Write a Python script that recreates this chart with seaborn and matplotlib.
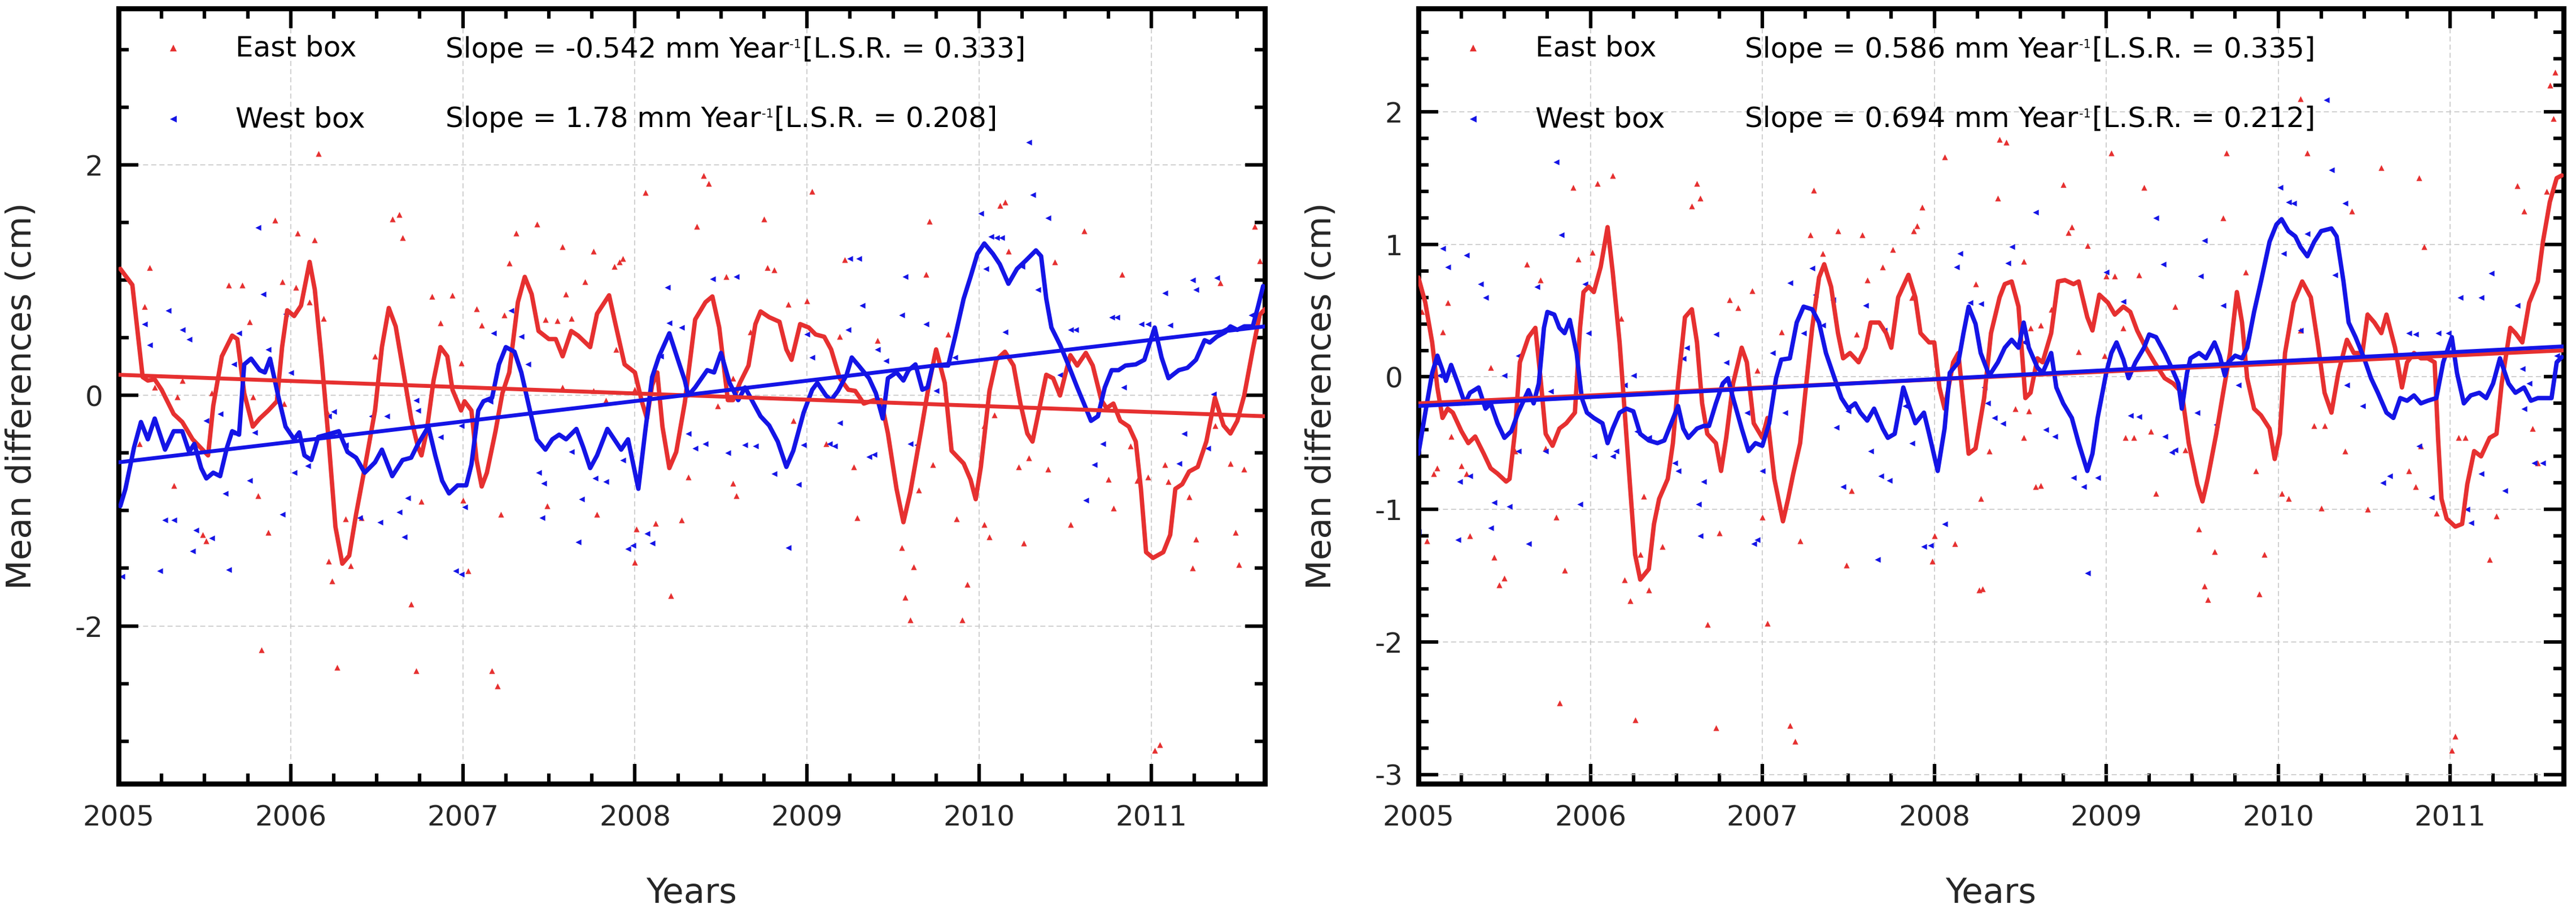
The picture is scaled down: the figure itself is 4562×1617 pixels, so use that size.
import numpy as np
import pandas as pd
import matplotlib
matplotlib.use("Agg")
import matplotlib.pyplot as plt
import seaborn as sns
from matplotlib.ticker import MultipleLocator, FuncFormatter

# ---------------- DATA ----------------
# Left panel, East box, smoothed line
le_line_x = [2005.01, 2005.08, 2005.14, 2005.17, 2005.21, 2005.25, 2005.32, 2005.37, 2005.43, 2005.52,
             2005.55, 2005.60, 2005.66, 2005.69, 2005.73, 2005.78, 2005.82, 2005.87, 2005.92, 2005.95,
             2005.98, 2006.02, 2006.06, 2006.11, 2006.14, 2006.18, 2006.22, 2006.26, 2006.30, 2006.34,
             2006.38, 2006.43, 2006.49, 2006.53, 2006.57, 2006.61, 2006.66, 2006.70, 2006.74, 2006.76,
             2006.79, 2006.83, 2006.87, 2006.91, 2006.94, 2006.99, 2007.01, 2007.05, 2007.08, 2007.11,
             2007.14, 2007.19, 2007.23, 2007.27, 2007.32, 2007.36, 2007.40, 2007.44, 2007.50, 2007.54,
             2007.58, 2007.63, 2007.67, 2007.74, 2007.78, 2007.85, 2007.89, 2007.94, 2008.00, 2008.04,
             2008.07, 2008.10, 2008.13, 2008.16, 2008.20, 2008.24, 2008.29, 2008.35, 2008.41, 2008.45,
             2008.49, 2008.54, 2008.57, 2008.61, 2008.66, 2008.70, 2008.73, 2008.78, 2008.84, 2008.88,
             2008.91, 2008.96, 2009.01, 2009.05, 2009.10, 2009.14, 2009.19, 2009.24, 2009.28, 2009.33,
             2009.39, 2009.43, 2009.47, 2009.52, 2009.56, 2009.60, 2009.66, 2009.71, 2009.75, 2009.80,
             2009.84, 2009.91, 2009.95, 2009.98, 2010.01, 2010.06, 2010.10, 2010.15, 2010.20, 2010.24,
             2010.28, 2010.31, 2010.35, 2010.39, 2010.43, 2010.47, 2010.50, 2010.53, 2010.57, 2010.62,
             2010.66, 2010.71, 2010.74, 2010.78, 2010.82, 2010.87, 2010.91, 2010.94, 2010.97, 2011.01,
             2011.07, 2011.11, 2011.14, 2011.18, 2011.22, 2011.27, 2011.32, 2011.37, 2011.42, 2011.46,
             2011.50, 2011.54, 2011.59, 2011.63, 2011.66]
le_line_y = [1.10, 0.96, 0.16, 0.13, 0.14, 0.05, -0.16, -0.23, -0.38, -0.52,
             -0.09, 0.34, 0.52, 0.49, 0.02, -0.27, -0.20, -0.13, -0.05, 0.42,
             0.74, 0.69, 0.78, 1.16, 0.92, 0.31, -0.38, -1.14, -1.46, -1.39,
             -1.03, -0.63, -0.13, 0.42, 0.76, 0.60, 0.16, -0.20, -0.45, -0.52,
             -0.31, 0.13, 0.42, 0.34, 0.05, -0.13, -0.05, -0.13, -0.56, -0.79,
             -0.67, -0.31, 0.02, 0.20, 0.81, 1.03, 0.88, 0.56, 0.49, 0.49,
             0.34, 0.56, 0.52, 0.42, 0.71, 0.87, 0.60, 0.27, 0.20, -0.05,
             -0.20, 0.09, 0.20, -0.27, -0.63, -0.49, -0.06, 0.66, 0.81, 0.86,
             0.59, -0.04, -0.04, 0.11, 0.26, 0.62, 0.73, 0.68, 0.64, 0.40,
             0.31, 0.62, 0.59, 0.53, 0.51, 0.40, 0.15, 0.05, 0.04, -0.07,
             -0.04, -0.04, -0.33, -0.81, -1.10, -0.84, -0.33, 0.11, 0.40, 0.11,
             -0.48, -0.59, -0.73, -0.90, -0.62, 0.04, 0.31, 0.38, 0.26, -0.07,
             -0.33, -0.40, -0.11, 0.18, 0.15, 0.00, 0.18, 0.35, 0.26, 0.37,
             0.26, -0.04, -0.11, -0.07, -0.22, -0.27, -0.40, -0.81, -1.36, -1.41,
             -1.36, -1.21, -0.81, -0.77, -0.66, -0.62, -0.40, -0.02, -0.26, -0.33,
             -0.22, 0.00, 0.40, 0.70, 0.75]

# Left panel, West box, smoothed line
lw_line_x = [2005.01, 2005.04, 2005.09, 2005.13, 2005.17, 2005.21, 2005.27, 2005.32, 2005.37, 2005.41,
             2005.44, 2005.48, 2005.51, 2005.55, 2005.59, 2005.63, 2005.66, 2005.70, 2005.73, 2005.77,
             2005.82, 2005.85, 2005.88, 2005.93, 2005.97, 2006.02, 2006.05, 2006.08, 2006.12, 2006.16,
             2006.21, 2006.28, 2006.33, 2006.38, 2006.43, 2006.49, 2006.53, 2006.59, 2006.65, 2006.70,
             2006.74, 2006.80, 2006.84, 2006.88, 2006.92, 2006.97, 2007.02, 2007.05, 2007.09, 2007.12,
             2007.17, 2007.21, 2007.25, 2007.30, 2007.34, 2007.39, 2007.43, 2007.48, 2007.52, 2007.56,
             2007.60, 2007.66, 2007.70, 2007.74, 2007.78, 2007.84, 2007.88, 2007.92, 2007.96, 2008.02,
             2008.06, 2008.10, 2008.14, 2008.20, 2008.25, 2008.29, 2008.31, 2008.35, 2008.42, 2008.46,
             2008.50, 2008.55, 2008.60, 2008.64, 2008.69, 2008.73, 2008.78, 2008.83, 2008.88, 2008.92,
             2008.98, 2009.03, 2009.06, 2009.11, 2009.14, 2009.18, 2009.23, 2009.26, 2009.30, 2009.36,
             2009.40, 2009.44, 2009.47, 2009.52, 2009.56, 2009.59, 2009.63, 2009.67, 2009.70, 2009.73,
             2009.78, 2009.82, 2009.86, 2009.91, 2009.95, 2009.99, 2010.03, 2010.08, 2010.12, 2010.17,
             2010.22, 2010.27, 2010.33, 2010.36, 2010.39, 2010.42, 2010.47, 2010.52, 2010.57, 2010.62,
             2010.65, 2010.69, 2010.73, 2010.77, 2010.81, 2010.85, 2010.91, 2010.96, 2011.02, 2011.06,
             2011.10, 2011.16, 2011.21, 2011.26, 2011.31, 2011.34, 2011.38, 2011.43, 2011.46, 2011.50,
             2011.54, 2011.59, 2011.62, 2011.65]
lw_line_y = [-0.96, -0.81, -0.45, -0.23, -0.38, -0.20, -0.47, -0.31, -0.31, -0.49,
             -0.42, -0.63, -0.72, -0.67, -0.70, -0.45, -0.31, -0.34, 0.27, 0.32,
             0.22, 0.20, 0.32, -0.02, -0.27, -0.38, -0.32, -0.52, -0.56, -0.36,
             -0.34, -0.31, -0.49, -0.54, -0.67, -0.58, -0.47, -0.70, -0.56, -0.54,
             -0.42, -0.27, -0.52, -0.74, -0.85, -0.78, -0.78, -0.60, -0.13, -0.05,
             -0.02, 0.27, 0.42, 0.38, 0.20, -0.13, -0.38, -0.47, -0.38, -0.34,
             -0.38, -0.29, -0.45, -0.63, -0.52, -0.29, -0.38, -0.47, -0.38, -0.81,
             -0.31, 0.16, 0.34, 0.54, 0.31, 0.13, 0.00, 0.07, 0.22, 0.20,
             0.37, 0.11, -0.04, 0.07, -0.07, -0.18, -0.26, -0.40, -0.62, -0.48,
             -0.15, 0.05, 0.11, 0.00, -0.04, 0.04, 0.18, 0.33, 0.26, 0.15,
             0.02, -0.20, 0.15, 0.20, 0.13, 0.22, 0.27, 0.05, 0.07, 0.26,
             0.26, 0.26, 0.51, 0.84, 1.03, 1.23, 1.32, 1.23, 1.14, 0.97,
             1.10, 1.17, 1.26, 1.21, 0.84, 0.59, 0.44, 0.26, 0.07, -0.11,
             -0.22, -0.18, 0.07, 0.22, 0.22, 0.26, 0.27, 0.31, 0.59, 0.33,
             0.15, 0.22, 0.24, 0.31, 0.48, 0.46, 0.51, 0.55, 0.60, 0.57,
             0.60, 0.60, 0.77, 0.95]

# Right panel, East box, smoothed line
re_line_x = [2005.00, 2005.04, 2005.08, 2005.11, 2005.14, 2005.17, 2005.20, 2005.25, 2005.29, 2005.33,
             2005.38, 2005.42, 2005.46, 2005.51, 2005.53, 2005.56, 2005.59, 2005.64, 2005.68, 2005.71,
             2005.74, 2005.78, 2005.82, 2005.86, 2005.91, 2005.94, 2005.96, 2005.99, 2006.02, 2006.06,
             2006.10, 2006.13, 2006.17, 2006.20, 2006.23, 2006.26, 2006.29, 2006.34, 2006.37, 2006.40,
             2006.45, 2006.48, 2006.51, 2006.55, 2006.59, 2006.62, 2006.65, 2006.68, 2006.73, 2006.76,
             2006.79, 2006.83, 2006.88, 2006.91, 2006.95, 2007.00, 2007.03, 2007.07, 2007.12, 2007.15,
             2007.18, 2007.22, 2007.25, 2007.29, 2007.33, 2007.36, 2007.40, 2007.44, 2007.47, 2007.51,
             2007.56, 2007.60, 2007.63, 2007.68, 2007.72, 2007.75, 2007.79, 2007.85, 2007.89, 2007.92,
             2007.97, 2008.00, 2008.03, 2008.06, 2008.11, 2008.14, 2008.17, 2008.20, 2008.24, 2008.29,
             2008.33, 2008.38, 2008.41, 2008.45, 2008.49, 2008.53, 2008.56, 2008.60, 2008.63, 2008.68,
             2008.72, 2008.76, 2008.81, 2008.84, 2008.89, 2008.92, 2008.96, 2009.01, 2009.05, 2009.10,
             2009.14, 2009.18, 2009.23, 2009.28, 2009.34, 2009.39, 2009.44, 2009.48, 2009.53, 2009.56,
             2009.59, 2009.64, 2009.68, 2009.72, 2009.76, 2009.79, 2009.82, 2009.86, 2009.90, 2009.95,
             2009.98, 2010.01, 2010.04, 2010.09, 2010.14, 2010.19, 2010.23, 2010.27, 2010.31, 2010.35,
             2010.40, 2010.44, 2010.49, 2010.52, 2010.56, 2010.60, 2010.63, 2010.68, 2010.72, 2010.75,
             2010.79, 2010.83, 2010.87, 2010.91, 2010.93, 2010.95, 2010.98, 2011.03, 2011.07, 2011.10,
             2011.14, 2011.18, 2011.23, 2011.27, 2011.30, 2011.35, 2011.38, 2011.42, 2011.46, 2011.51,
             2011.54, 2011.58, 2011.62, 2011.65]
re_line_y = [0.75, 0.56, 0.26, -0.08, -0.31, -0.24, -0.27, -0.41, -0.50, -0.45,
             -0.58, -0.69, -0.73, -0.79, -0.77, -0.43, 0.11, 0.30, 0.37, -0.01,
             -0.43, -0.52, -0.39, -0.35, -0.27, 0.37, 0.64, 0.68, 0.64, 0.83,
             1.13, 0.79, 0.26, -0.27, -0.81, -1.34, -1.53, -1.45, -1.11, -0.92,
             -0.77, -0.50, -0.05, 0.45, 0.51, 0.26, -0.20, -0.43, -0.50, -0.71,
             -0.46, -0.05, 0.22, 0.11, -0.35, -0.46, -0.31, -0.77, -1.09, -0.92,
             -0.73, -0.50, -0.12, 0.37, 0.75, 0.85, 0.68, 0.33, 0.14, 0.18,
             0.11, 0.22, 0.41, 0.41, 0.33, 0.22, 0.60, 0.77, 0.60, 0.33,
             0.26, 0.26, -0.08, -0.24, 0.11, 0.18, -0.20, -0.58, -0.54, -0.16,
             0.33, 0.60, 0.70, 0.72, 0.53, -0.16, -0.12, 0.14, 0.11, 0.33,
             0.72, 0.73, 0.70, 0.72, 0.45, 0.35, 0.62, 0.56, 0.47, 0.53,
             0.49, 0.35, 0.22, 0.11, -0.01, -0.05, -0.12, -0.50, -0.81, -0.94,
             -0.77, -0.43, -0.12, 0.18, 0.64, 0.41, -0.01, -0.24, -0.29, -0.39,
             -0.62, -0.43, 0.18, 0.56, 0.72, 0.60, 0.26, -0.12, -0.27, 0.03,
             0.28, 0.18, 0.18, 0.47, 0.41, 0.33, 0.47, 0.22, -0.08, 0.11,
             0.18, 0.14, 0.14, 0.11, -0.46, -0.92, -1.07, -1.13, -1.11, -0.81,
             -0.56, -0.60, -0.46, -0.43, -0.05, 0.37, 0.33, 0.26, 0.56, 0.72,
             1.02, 1.32, 1.50, 1.52]

# Right panel, West box, smoothed line
rw_line_x = [2005.00, 2005.04, 2005.08, 2005.11, 2005.14, 2005.16, 2005.19, 2005.23, 2005.27, 2005.30,
             2005.35, 2005.39, 2005.42, 2005.46, 2005.50, 2005.54, 2005.58, 2005.64, 2005.67, 2005.70,
             2005.73, 2005.75, 2005.79, 2005.82, 2005.85, 2005.88, 2005.92, 2005.95, 2005.98, 2006.02,
             2006.07, 2006.10, 2006.13, 2006.17, 2006.21, 2006.25, 2006.29, 2006.34, 2006.39, 2006.43,
             2006.47, 2006.51, 2006.54, 2006.57, 2006.62, 2006.66, 2006.69, 2006.73, 2006.77, 2006.80,
             2006.83, 2006.88, 2006.92, 2006.96, 2007.00, 2007.04, 2007.08, 2007.11, 2007.16, 2007.20,
             2007.24, 2007.29, 2007.33, 2007.37, 2007.42, 2007.46, 2007.50, 2007.54, 2007.57, 2007.61,
             2007.65, 2007.70, 2007.73, 2007.77, 2007.82, 2007.85, 2007.89, 2007.94, 2007.97, 2008.02,
             2008.06, 2008.09, 2008.14, 2008.17, 2008.20, 2008.24, 2008.27, 2008.32, 2008.37, 2008.41,
             2008.45, 2008.49, 2008.52, 2008.55, 2008.60, 2008.63, 2008.68, 2008.71, 2008.75, 2008.80,
             2008.84, 2008.89, 2008.92, 2008.95, 2009.00, 2009.03, 2009.06, 2009.10, 2009.13, 2009.17,
             2009.22, 2009.25, 2009.29, 2009.34, 2009.38, 2009.42, 2009.44, 2009.47, 2009.49, 2009.54,
             2009.58, 2009.63, 2009.66, 2009.69, 2009.71, 2009.75, 2009.79, 2009.82, 2009.86, 2009.90,
             2009.95, 2009.99, 2010.02, 2010.06, 2010.10, 2010.13, 2010.17, 2010.21, 2010.25, 2010.31,
             2010.34, 2010.38, 2010.41, 2010.45, 2010.50, 2010.54, 2010.58, 2010.63, 2010.67, 2010.71,
             2010.75, 2010.79, 2010.83, 2010.87, 2010.92, 2010.96, 2011.01, 2011.04, 2011.08, 2011.12,
             2011.17, 2011.21, 2011.25, 2011.29, 2011.34, 2011.38, 2011.43, 2011.47, 2011.51, 2011.55,
             2011.59, 2011.62, 2011.65]
rw_line_y = [-0.58, -0.27, 0.03, 0.16, 0.05, -0.03, 0.09, -0.05, -0.20, -0.12,
             -0.08, -0.24, -0.20, -0.35, -0.46, -0.41, -0.27, -0.10, -0.20, -0.05,
             0.37, 0.49, 0.47, 0.37, 0.33, 0.43, 0.18, -0.16, -0.27, -0.31,
             -0.35, -0.50, -0.39, -0.27, -0.24, -0.26, -0.43, -0.48, -0.50, -0.48,
             -0.35, -0.22, -0.39, -0.46, -0.39, -0.37, -0.37, -0.20, -0.05, -0.01,
             -0.16, -0.39, -0.56, -0.50, -0.52, -0.35, -0.01, 0.13, 0.14, 0.41,
             0.53, 0.51, 0.41, 0.18, -0.01, -0.16, -0.24, -0.20, -0.27, -0.33,
             -0.24, -0.39, -0.46, -0.43, -0.08, -0.20, -0.35, -0.27, -0.43, -0.71,
             -0.39, 0.03, 0.11, 0.33, 0.53, 0.40, 0.18, 0.01, 0.11, 0.22,
             0.28, 0.22, 0.41, 0.22, 0.07, 0.03, 0.18, -0.08, -0.20, -0.31,
             -0.50, -0.71, -0.58, -0.31, 0.03, 0.18, 0.26, 0.13, -0.01, 0.11,
             0.22, 0.32, 0.30, 0.18, 0.07, -0.05, -0.24, 0.03, 0.14, 0.18,
             0.14, 0.26, 0.16, 0.01, 0.11, 0.16, 0.14, 0.22, 0.49, 0.72,
             1.02, 1.15, 1.19, 1.10, 1.06, 0.98, 0.91, 1.02, 1.10, 1.12,
             1.06, 0.72, 0.41, 0.30, 0.14, -0.01, -0.12, -0.27, -0.31, -0.16,
             -0.18, -0.14, -0.20, -0.18, -0.16, 0.11, 0.30, 0.03, -0.20, -0.14,
             -0.12, -0.16, -0.05, 0.14, -0.05, -0.12, -0.08, -0.18, -0.16, -0.16,
             -0.16, 0.11, 0.15]

# Scatter points (x = decimal year, y = cm)
le_pts_x = [2005.00, 2006.16, 2008.06, 2005.91, 2006.59, 2006.63, 2006.65, 2006.04, 2006.14, 2005.18,
            2005.64, 2005.72, 2005.95, 2006.03, 2007.31, 2007.43, 2007.58, 2007.27, 2007.76, 2007.88,
            2007.91, 2007.93, 2007.71, 2007.60, 2006.82, 2006.94, 2005.15, 2005.76, 2006.11, 2006.19,
            2006.87, 2007.08, 2007.11, 2007.48, 2007.55, 2007.63, 2007.89, 2006.49, 2006.99, 2007.24,
            2005.37, 2005.21, 2005.34, 2005.54, 2005.78, 2005.96, 2007.58, 2007.76, 2007.83, 2008.00,
            2008.12, 2005.12, 2005.32, 2005.81, 2005.87, 2005.49, 2005.51, 2006.21, 2006.32, 2006.41,
            2006.22, 2006.24, 2006.35, 2006.76, 2007.00, 2007.03, 2006.70, 2007.22, 2007.49, 2007.78,
            2008.01, 2008.12, 2008.00, 2008.27, 2008.21, 2005.83, 2006.27, 2006.73, 2007.17, 2007.20,
            2008.40, 2008.43, 2009.03, 2008.36, 2008.75, 2008.77, 2008.81, 2008.53, 2009.22, 2009.71,
            2010.12, 2010.15, 2010.61, 2010.17, 2010.44, 2009.69, 2010.83, 2008.89, 2009.00, 2008.67,
            2009.19, 2009.41, 2009.82, 2008.57, 2008.48, 2008.31, 2008.57, 2008.59, 2008.92, 2009.11,
            2009.27, 2009.29, 2009.73, 2009.87, 2009.65, 2009.55, 2009.62, 2009.57, 2009.60, 2009.93,
            2009.90, 2010.03, 2010.06, 2010.26, 2010.23, 2010.29, 2010.40, 2010.09, 2010.03, 2010.53,
            2010.78, 2010.75, 2010.92, 2010.88, 2010.98, 2011.08, 2011.10, 2011.22, 2011.26, 2011.24,
            2011.49, 2011.51, 2011.46, 2011.54, 2011.37, 2011.40, 2011.60, 2011.63, 2011.02, 2011.05]
le_pts_y = [3.02, 2.10, 1.76, 1.52, 1.53, 1.57, 1.37, 1.41, 1.35, 1.11,
            0.96, 0.96, 0.99, 0.94, 1.41, 1.49, 1.29, 1.15, 1.25, 1.12,
            1.16, 1.19, 0.99, 0.88, 0.86, 0.87, 0.77, 0.64, 0.81, 0.67,
            0.63, 0.75, 0.61, 0.66, 0.65, 0.67, 0.40, 0.34, 0.28, 0.70,
            0.13, 0.07, -0.01, 0.02, -0.01, -0.07, 0.07, 0.04, -0.04, 0.05,
            0.20, -0.42, -0.78, -0.87, -1.19, -1.21, -1.26, -0.14, -1.07, -1.06,
            -1.44, -1.61, -1.48, -0.92, -0.91, -1.52, -1.81, -1.03, -0.96, -1.03,
            -1.16, -1.11, -1.45, -1.08, -1.74, -2.21, -2.36, -2.39, -2.39, -2.52,
            1.91, 1.84, 1.77, 1.47, 1.53, 1.11, 1.09, 1.03, 1.18, 1.51,
            1.65, 1.68, 1.43, 1.25, 1.16, 1.05, 1.05, 0.79, 0.82, 0.55,
            0.51, 0.48, 0.53, 0.15, -0.09, -0.71, -0.76, -0.87, -0.22, -0.42,
            -0.62, -1.06, -0.60, -1.07, -0.82, -1.32, -1.49, -1.75, -1.95, -1.64,
            -1.95, -1.12, -1.23, -1.28, -0.62, -0.54, -0.64, -0.17, -0.26, -1.12,
            -0.98, -0.73, -0.74, -0.44, -0.71, -0.60, -0.75, -0.88, -1.25, -1.50,
            -1.19, -1.47, -0.59, -0.64, -0.26, 0.98, 1.47, 1.17, -3.08, -3.03]

lw_pts_x = [2005.81, 2005.84, 2005.29, 2005.15, 2005.18, 2005.37, 2005.41, 2005.70, 2005.67, 2005.87,
            2006.00, 2005.97, 2005.51, 2005.59, 2005.66, 2005.79, 2006.02, 2006.10, 2006.22, 2006.25,
            2006.32, 2005.62, 2005.76, 2005.27, 2005.32, 2005.45, 2005.54, 2005.43, 2005.24, 2005.64,
            2005.02, 2005.95, 2006.40, 2006.52, 2006.47, 2006.56, 2006.63, 2006.68, 2006.66, 2006.73,
            2006.74, 2006.87, 2006.99, 2007.01, 2006.96, 2006.99, 2007.16, 2007.18, 2007.28, 2007.34,
            2007.38, 2007.44, 2007.46, 2007.47, 2007.63, 2007.69, 2007.67, 2007.77, 2007.83, 2007.93,
            2007.96, 2007.99, 2008.07, 2008.10, 2008.19, 2008.20, 2008.15, 2008.31,
            2010.29, 2010.31, 2010.40, 2010.01, 2010.07, 2010.10, 2010.13, 2010.04, 2010.25, 2009.25,
            2009.30, 2008.45, 2008.59, 2009.57, 2010.34, 2009.32, 2009.55, 2009.69, 2010.15, 2011.08,
            2011.24, 2011.26, 2011.38, 2010.77, 2010.80, 2010.94, 2010.98, 2011.11, 2011.42, 2008.27,
            2009.00, 2009.24, 2009.03, 2009.41, 2009.46, 2009.75, 2009.86, 2010.53, 2010.56, 2010.47,
            2010.84, 2011.36, 2008.35, 2008.41, 2008.54, 2008.64, 2008.70, 2008.98, 2009.13, 2009.16,
            2009.19, 2009.36, 2009.39, 2009.60, 2009.64, 2008.81, 2008.95, 2008.89, 2010.72, 2010.67,
            2010.62, 2011.16, 2011.19, 2011.33, 2011.58]
lw_pts_y = [1.46, 0.88, 0.74, 0.62, 0.44, 0.57, 0.49, 0.54, 0.27, 0.40,
            0.20, 0.71, -0.22, -0.16, -0.32, -0.32, -0.67, -0.61, -0.18, -0.14,
            -0.43, -0.85, -0.74, -1.08, -1.08, -1.17, -1.24, -1.35, -1.52, -1.51,
            -1.57, -1.03, -1.06, -1.10, -0.18, -0.18, -1.01, -0.89, -1.23, -0.04,
            -0.13, -0.36, -0.26, -0.97, -1.52, -1.55, -0.05, 0.54, 0.74, 0.51,
            0.27, -0.67, -1.06, -0.76, -0.49, -0.90, -1.27, -0.72, -0.75, -0.56,
            -1.33, -1.30, -1.20, -1.28, 0.94, 0.63, 0.34, -0.33,
            2.20, 1.74, 1.54, 1.58, 1.38, 1.37, 1.37, 1.10, 1.12, 1.19,
            1.19, 1.01, 1.03, 1.03, 0.92, 0.78, 0.70, 0.62, 0.55, 0.89,
            1.00, 0.92, 1.02, 0.68, 0.68, 0.62, 0.62, 0.61, 0.57, 0.59,
            0.53, 0.57, 0.33, 0.40, 0.30, 0.04, 0.33, 0.57, 0.57, 0.18,
            0.07, 0.01, -0.46, -0.42, -0.50, -0.43, -0.44, -0.43, -0.42, -0.44,
            -0.24, -0.53, -0.51, -0.42, -0.43, -0.68, -0.77, -1.32, -0.42, -0.60,
            -0.91, -0.59, -0.33, -0.46, 0.70]

re_pts_x = [2005.00, 2005.02, 2005.17, 2005.14, 2005.19, 2005.25, 2005.28, 2005.09, 2005.11, 2005.05,
            2005.30, 2005.42, 2005.44, 2005.47, 2005.50, 2005.56, 2005.63, 2005.71, 2005.74, 2005.80,
            2005.82, 2005.85, 2005.90, 2005.93, 2006.01, 2006.04, 2006.13, 2006.18, 2006.20, 2006.23,
            2006.29, 2006.31, 2006.34, 2006.26, 2006.42, 2006.59, 2006.62, 2006.64, 2006.68, 2006.73,
            2006.75, 2006.81, 2006.86, 2006.94, 2006.97, 2007.00, 2007.03, 2007.11, 2007.16, 2007.19,
            2007.22, 2007.28, 2007.30, 2007.35, 2007.44, 2007.49, 2007.52, 2007.55, 2007.58, 2007.61,
            2007.70, 2007.76, 2007.88, 2007.90, 2007.93, 2007.87, 2007.99, 2008.00, 2008.06, 2008.12,
            2008.26, 2008.24, 2008.38, 2008.42, 2009.03, 2008.75, 2008.37, 2008.78, 2008.80, 2008.89,
            2008.52, 2009.00, 2009.05, 2009.19, 2008.68, 2008.62, 2008.56, 2008.84, 2008.99, 2009.10,
            2009.40, 2009.22, 2009.70, 2009.68, 2009.81, 2010.13, 2010.17, 2010.60, 2010.82, 2010.85,
            2010.52, 2010.13, 2010.43, 2011.39, 2011.43, 2011.56, 2011.58, 2011.60, 2011.61, 2008.27,
            2008.28, 2008.47, 2008.55, 2008.52, 2008.59, 2008.62, 2008.32, 2009.11, 2009.16, 2009.26,
            2009.29, 2009.46, 2009.54, 2009.63, 2009.57, 2009.59, 2009.87, 2009.92, 2009.89, 2010.02,
            2010.06, 2010.21, 2010.27, 2010.25, 2010.39, 2010.52, 2010.76, 2010.80, 2010.83, 2010.92,
            2011.05, 2011.09, 2011.27, 2011.23, 2011.48, 2011.51, 2011.03, 2011.01]
re_pts_y = [2.49, 0.49, 0.56, 0.34, -0.45, -0.67, -0.73, -0.73, -0.69, -1.24,
            -1.20, 0.07, -1.36, -1.57, -1.52, -0.56, 0.85, 0.73, -0.54, -1.06,
            -2.46, -1.46, 1.43, 0.89, 0.94, 1.46, 1.52, 0.44, -1.53, -1.69,
            -1.34, -0.90, -1.61, -2.59, -1.28, 1.29, 1.46, 1.35, -1.87, -2.65,
            -1.18, 0.58, 0.52, 0.65, 0.05, -1.06, -1.86, 0.34, -2.63, -2.75,
            -1.24, 1.07, 1.41, 0.93, 1.10, -1.42, -0.86, 0.32, 1.07, 0.73,
            0.83, 0.96, 1.10, 1.14, 1.28, 0.60, -1.39, -1.20, 1.66, -1.26,
            -1.61, 0.70, 1.79, 1.77, 1.69, 1.45, 1.35, 1.09, 1.13, 0.99,
            0.87, 0.76, 0.76, 0.77, 0.51, 0.39, 0.37, 0.19, 0.16, 0.37,
            0.53, 1.43, 1.69, 1.20, 0.79, 2.10, 1.69, 1.58, 1.50, 0.98,
            0.47, 0.35, 1.25, 1.44, 1.25, 1.40, 2.20, 1.95, 2.30, -0.92,
            -1.60, -0.24, -0.26, -0.46, -0.83, -0.82, -0.56, -0.46, -0.46, -0.41,
            -0.88, -0.55, -1.15, -1.32, -1.58, -1.68, -0.71, -1.34, -1.64, -0.88,
            -0.92, -0.37, -0.37, -0.99, -0.56, -1.00, -0.71, -0.83, -0.52, -1.03,
            -0.46, -0.46, -1.05, -1.38, -0.39, -0.65, -2.71, -2.82]

rw_pts_x = [2005.80, 2005.83, 2005.14, 2005.17, 2005.28, 2005.36, 2005.39, 2005.69, 2005.97, 2005.99,
            2005.10, 2005.12, 2005.50, 2005.58, 2005.77, 2005.74, 2005.58, 2005.24, 2005.30, 2005.44,
            2005.53, 2005.42, 2005.23, 2005.00, 2005.64, 2005.94, 2006.02, 2006.13, 2006.15, 2006.25,
            2006.20, 2006.27, 2006.34, 2006.51, 2006.49, 2006.54, 2006.56, 2006.63, 2006.66, 2006.64,
            2006.73, 2006.79, 2006.91, 2007.00, 2006.95, 2006.97, 2007.06, 2007.16, 2007.24, 2007.29,
            2007.31, 2007.35, 2007.41, 2007.43, 2007.47, 2007.50, 2007.60, 2007.63, 2007.67, 2007.69,
            2007.74, 2007.71, 2007.83, 2007.87, 2007.94, 2007.98, 2008.06, 2008.13, 2008.15, 2008.21,
            2008.29, 2007.13,
            2010.28, 2010.31, 2010.01, 2010.06, 2010.09, 2010.39, 2010.03, 2010.17, 2010.33, 2009.57,
            2009.29, 2008.59, 2008.45, 2008.43, 2009.33, 2009.55, 2009.68, 2009.00, 2009.10, 2008.27,
            2008.52, 2010.13, 2011.06, 2011.18, 2011.24, 2011.39, 2010.76, 2010.80, 2010.93, 2010.99,
            2011.42, 2011.46, 2010.40, 2010.49, 2009.77, 2008.31, 2008.35, 2008.40, 2008.65, 2008.70,
            2009.14, 2009.19, 2009.34, 2009.38, 2009.40, 2009.53, 2009.64, 2008.81, 2008.87, 2008.95,
            2008.89, 2010.61, 2010.65, 2010.82, 2010.89, 2011.10, 2011.12, 2011.18, 2011.32, 2011.43,
            2011.49, 2011.54, 2011.62]
rw_pts_y = [1.62, 1.07, 0.97, 0.83, 0.92, 0.70, 0.60, 0.68, 0.70, 0.33,
            0.11, 0.01, 0.01, 0.16, -0.11, -0.56, -0.56, -0.79, -0.75, -0.95,
            -0.98, -1.14, -1.23, -1.17, -1.26, -0.96, -0.60, -0.60, -0.56, 0.01,
            -0.06, -0.41, -0.46, -0.71, -0.65, 0.14, 0.22, -0.96, -0.79, -1.20,
            0.32, 0.11, -0.27, -0.71, -1.26, -1.23, 0.18, 0.71, 0.33, 0.82,
            0.62, 0.39, 0.58, -0.38, -0.83, -0.26, 0.54, -0.56, -1.38, -0.75,
            -0.78, 0.35, -0.22, -0.50, -1.28, -1.27, -1.11, 0.83, 0.93, 0.56,
            -0.08, -0.27,
            2.09, 1.56, 1.43, 1.32, 1.31, 1.31, 0.93, 1.08, 0.77, 1.03,
            1.20, 1.24, 0.98, 0.86, 0.85, 0.76, 0.54, 0.79, 0.57, 0.55,
            0.26, 0.35, 0.60, 0.60, 0.78, 0.54, 0.33, 0.32, 0.33, 0.33,
            0.06, -0.05, -0.06, -0.22, -0.06, -0.20, -0.31, -0.35, -0.40, -0.45,
            -0.29, -0.30, -0.45, -0.57, -0.55, -0.27, -0.36, -0.76, -0.83, -0.76,
            -1.48, -0.80, -0.75, -0.52, -0.91, -1.00, -1.10, -0.73, -0.86, -0.24,
            -0.65, -0.65, 0.16]

# Least-squares trend lines (end values)
trend_x = [2005.0, 2011.66]
le_trend_y = [0.18, -0.18]
lw_trend_y = [-0.58, 0.60]
re_trend_y = [-0.20, 0.20]
rw_trend_y = [-0.22, 0.23]

# Texts
series_names = ["East box", "West box"]
left_slopes = [("Slope = -0.542 mm Year", "-1", "[L.S.R. = 0.333]"),
               ("Slope = 1.78 mm Year", "-1", "[L.S.R. = 0.208]")]
right_slopes = [("Slope = 0.586 mm Year", "-1", "[L.S.R. = 0.335]"),
                ("Slope = 0.694 mm Year", "-1", "[L.S.R. = 0.212]")]
x_label = "Years"
y_label = "Mean differences (cm)"

# ---------------- STYLE ----------------
sns.set_theme(style="white")
plt.rcParams["font.family"] = ["DejaVu Sans"]
plt.rcParams["axes.unicode_minus"] = False

RED = "#e63030"
BLUE = "#1414e6"

W, H = 4562, 1617
fig = plt.figure(figsize=(W / 100, H / 100), dpi=100)
ax_l = fig.add_axes([210 / W, (H - 1388) / H, 2030 / W, 1373 / H])
ax_r = fig.add_axes([2512 / W, (H - 1388) / H, 2028 / W, 1373 / H])


def draw_panel(ax, ex, ey, wx, wy, elx, ely, wlx, wly, etr, wtr, slopes,
               ylim, ymaj, ymin):
    d_e = pd.DataFrame({"x": ex, "y": ey})
    d_w = pd.DataFrame({"x": wx, "y": wy})
    sns.scatterplot(data=d_e, x="x", y="y", ax=ax, marker="^", color=RED,
                    s=55, linewidth=0, zorder=2, legend=False)
    sns.scatterplot(data=d_w, x="x", y="y", ax=ax, marker="<", color=BLUE,
                    s=55, linewidth=0, zorder=2, legend=False)
    sns.lineplot(data=pd.DataFrame({"x": elx, "y": ely}), x="x", y="y", ax=ax,
                 color=RED, linewidth=5.6, estimator=None, zorder=3)
    sns.lineplot(data=pd.DataFrame({"x": wlx, "y": wly}), x="x", y="y", ax=ax,
                 color=BLUE, linewidth=5.6, estimator=None, zorder=3)
    sns.lineplot(data=pd.DataFrame({"x": trend_x, "y": etr}), x="x", y="y", ax=ax,
                 color=RED, linewidth=5.0, estimator=None, zorder=4)
    sns.lineplot(data=pd.DataFrame({"x": trend_x, "y": wtr}), x="x", y="y", ax=ax,
                 color=BLUE, linewidth=5.0, estimator=None, zorder=4)

    ax.set_xlim(2005.0, 2011.66)
    ax.set_ylim(*ylim)
    ax.xaxis.set_major_locator(MultipleLocator(1))
    ax.xaxis.set_minor_locator(MultipleLocator(0.25))
    ax.yaxis.set_major_locator(MultipleLocator(ymaj))
    ax.yaxis.set_minor_locator(MultipleLocator(ymin))
    fmt = FuncFormatter(lambda v, p: f"{int(round(v))}")
    ax.xaxis.set_major_formatter(fmt)
    ax.yaxis.set_major_formatter(fmt)

    ax.grid(True, which="major", color="#cccccc", linestyle=(0, (5, 3)),
            linewidth=1.3, zorder=0)
    ax.set_axisbelow(True)
    for sp in ax.spines.values():
        sp.set_visible(True)
        sp.set_color("black")
        sp.set_linewidth(6.5)
    ax.tick_params(which="both", direction="in", top=True, right=True,
                   bottom=True, left=True, color="black", width=4.5)
    ax.tick_params(which="major", length=25, labelsize=36)
    ax.tick_params(which="minor", length=13)
    ax.tick_params(axis="x", which="major", pad=26)
    ax.tick_params(axis="y", which="major", pad=20)

    ax.set_xlabel(x_label, fontsize=44, labelpad=58)
    ax.set_ylabel(y_label, fontsize=44, labelpad=46)

    # key (marker + name + slope text)
    rows = [0.949, 0.857]
    baselines = [0.9366, 0.847]
    for (mk, col, name, slope, yy, yb) in zip(["^", "<"], [RED, BLUE], series_names,
                                              slopes, rows, baselines):
        ax.plot([0.048], [yy], transform=ax.transAxes, marker=mk, color=col,
                markersize=8, linestyle="none", markeredgewidth=0, zorder=5)
        ax.text(0.102, yy, name, transform=ax.transAxes, fontsize=36,
                va="center", ha="left", color="black", zorder=5)
        pre, sup, post = slope
        t1 = ax.text(0.285, yb, pre, transform=ax.transAxes, fontsize=36,
                     va="baseline", ha="left", color="black", zorder=5)
        t2 = ax.annotate(sup, xy=(1, yb), xycoords=(t1, "axes fraction"),
                         xytext=(1.0, 12), textcoords="offset points",
                         fontsize=15, va="baseline", ha="left", color="black",
                         zorder=5)
        ax.annotate(post, xy=(1, yb), xycoords=(t2, "axes fraction"),
                    xytext=(1.5, 0), textcoords="offset points",
                    fontsize=36, va="baseline", ha="left", color="black",
                    zorder=5)


draw_panel(ax_l, le_pts_x, le_pts_y, lw_pts_x, lw_pts_y,
           le_line_x, le_line_y, lw_line_x, lw_line_y,
           le_trend_y, lw_trend_y, left_slopes, (-3.37, 3.36), 2, 0.5)
draw_panel(ax_r, re_pts_x, re_pts_y, rw_pts_x, rw_pts_y,
           re_line_x, re_line_y, rw_line_x, rw_line_y,
           re_trend_y, rw_trend_y, right_slopes, (-3.07, 2.78), 1, 0.2)

fig.savefig("out.png", dpi=100, facecolor="white")
